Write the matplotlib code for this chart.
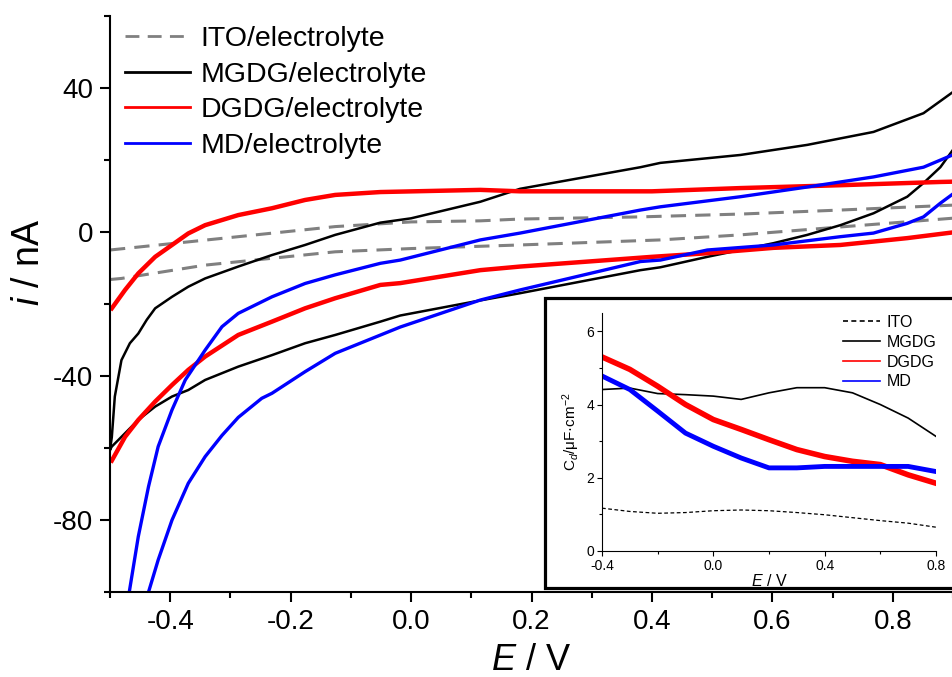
import numpy as np
import matplotlib
matplotlib.use('Agg')
from matplotlib import pyplot as plt
from matplotlib.patches import Rectangle
from matplotlib.ticker import MultipleLocator

plt.rcParams['font.family'] = ['Liberation Sans', 'DejaVu Sans']
plt.rcParams['mathtext.fontset'] = 'custom'
plt.rcParams['mathtext.rm'] = 'Liberation Sans'
plt.rcParams['mathtext.it'] = 'Liberation Sans:italic'

# ---- main CV curves (E / V, i / nA), forward branch then reverse branch ----
ito_e = [-0.5, -0.126, 0.0, 0.115, 0.181, 0.381, 0.55, 0.713, 0.905,
         0.905, 0.713, 0.547, 0.414, 0.181, 0.0, -0.126, -0.342, -0.481, -0.5]
ito_i = [-5.0, 1.5, 2.8, 3.1, 3.6, 4.2, 5.0, 6.1, 7.5,
         3.9, 1.4, -0.8, -2.2, -3.6, -4.6, -5.5, -9.2, -12.9, -13.2]

mgdg_e = [-0.5, -0.497, -0.492, -0.481, -0.467, -0.453, -0.439, -0.425, -0.397, -0.370,
          -0.342, -0.287, -0.231, -0.176, -0.126, -0.051, 0.0, 0.115, 0.181, 0.381,
          0.414, 0.547, 0.658, 0.768, 0.851, 0.905,
          0.905, 0.879, 0.851, 0.824, 0.768, 0.713, 0.658, 0.602, 0.492, 0.414, 0.381,
          0.181, 0.115, -0.018, -0.051, -0.126, -0.176, -0.231, -0.287, -0.342, -0.370,
          -0.397, -0.425, -0.453, -0.475, -0.497, -0.5]
mgdg_i = [-60.5, -57.0, -45.7, -35.6, -30.9, -28.2, -24.4, -21.2, -18.0, -15.2,
          -12.9, -9.6, -6.4, -3.6, -0.8, 2.6, 3.8, 8.4, 12.0, 18.0,
          19.2, 21.4, 24.2, 27.8, 33.0, 39.5,
          24.0, 18.0, 13.6, 9.8, 5.2, 1.9, -0.8, -3.1, -6.9, -9.8, -10.6,
          -17.0, -19.0, -23.2, -24.9, -28.6, -30.9, -34.2, -37.4, -41.1, -43.9,
          -45.7, -48.5, -52.2, -55.9, -59.6, -60.5]

dgdg_e = [-0.497, -0.475, -0.453, -0.425, -0.397, -0.370, -0.342, -0.287, -0.231, -0.176,
          -0.126, -0.051, 0.115, 0.181, 0.4, 0.547, 0.713, 0.879, 0.905,
          0.905, 0.824, 0.713, 0.602, 0.492, 0.4, 0.181, 0.115, -0.018, -0.051,
          -0.126, -0.176, -0.231, -0.287, -0.342, -0.370, -0.397, -0.425, -0.453,
          -0.475, -0.497]
dgdg_i = [-21.2, -16.1, -11.5, -6.9, -3.6, -0.4, 1.9, 4.7, 6.6, 8.9,
          10.3, 11.1, 11.7, 11.3, 11.3, 12.2, 13.0, 13.9, 14.0,
          0.0, -1.7, -3.6, -4.4, -5.9, -6.9, -9.6, -10.6, -14.2, -14.7,
          -18.4, -21.2, -24.9, -28.6, -34.6, -38.3, -42.5, -47.1, -52.2,
          -56.9, -63.5]

md_e = [-0.470, -0.468, -0.453, -0.436, -0.420, -0.397, -0.375, -0.342, -0.314, -0.287,
        -0.231, -0.176, -0.126, -0.051, -0.018, 0.115, 0.181, 0.381, 0.414, 0.547,
        0.658, 0.768, 0.851, 0.905,
        0.905, 0.879, 0.851, 0.824, 0.768, 0.713, 0.602, 0.492, 0.414, 0.381,
        0.181, 0.115, -0.018, -0.126, -0.176, -0.231, -0.248, -0.287, -0.314,
        -0.342, -0.370, -0.397, -0.420, -0.436, -0.438]
md_i = [-103.0, -100.0, -84.6, -70.7, -59.6, -49.4, -41.1, -32.8, -26.3, -22.6,
        -18.0, -14.3, -11.9, -8.7, -7.8, -2.2, -0.3, 6.1, 7.0, 9.8,
        12.5, 15.3, 18.0, 21.8,
        11.2, 8.0, 4.2, 2.4, -0.3, -1.3, -3.6, -5.0, -7.8, -8.2,
        -16.1, -18.9, -26.4, -33.7, -38.8, -44.8, -46.2, -51.5, -56.5,
        -62.4, -69.8, -80.0, -91.1, -100.0, -103.0]

# ---- inset: differential capacitance ----
cd_e = [-0.4, -0.3, -0.2, -0.1, 0.0, 0.1, 0.2, 0.3, 0.4, 0.5, 0.6, 0.7, 0.8]
cd_ito = [1.17, 1.08, 1.03, 1.05, 1.10, 1.12, 1.10, 1.05, 0.99, 0.91, 0.83, 0.76, 0.65]
cd_mgdg = [4.41, 4.45, 4.30, 4.27, 4.23, 4.14, 4.32, 4.46, 4.46, 4.32, 4.00, 3.63, 3.13]
cd_dgdg = [5.30, 4.96, 4.50, 4.00, 3.59, 3.32, 3.04, 2.77, 2.58, 2.45, 2.36, 2.08, 1.85]
cd_md = [4.78, 4.41, 3.82, 3.22, 2.86, 2.54, 2.27, 2.27, 2.31, 2.31, 2.31, 2.31, 2.17]

fig = plt.figure(figsize=(9.53, 6.77), dpi=100)
ax = fig.add_axes([110/953, 85/677, 843/953, 576/677])

ax.plot(ito_e, ito_i, color='#808080', lw=2.2, ls=(0, (5, 3)), label='ITO/electrolyte')
ax.plot(mgdg_e, mgdg_i, color='black', lw=1.8, label='MGDG/electrolyte')
ax.plot(dgdg_e, dgdg_i, color='#ff0000', lw=3.2, label='DGDG/electrolyte')
ax.plot(md_e, md_i, color='#0000ff', lw=2.4, label='MD/electrolyte')

ax.set_xlim(-0.5, 0.9)
ax.set_ylim(-100, 60)
ax.xaxis.set_minor_locator(MultipleLocator(0.1))
ax.yaxis.set_minor_locator(MultipleLocator(20))
ax.set_xticks([-0.4, -0.2, 0.0, 0.2, 0.4, 0.6, 0.8])
ax.set_xticklabels(['-0.4', '-0.2', '0.0', '0.2', '0.4', '0.6', '0.8'])
ax.set_yticks([-80, -40, 0, 40])
ax.set_yticklabels(['-80', '-40', '0', '40'])
for s in ['top', 'right']:
    ax.spines[s].set_visible(False)
for s in ['left', 'bottom']:
    ax.spines[s].set_linewidth(1.5)
ax.tick_params(which='major', direction='out', length=7, width=1.5, labelsize=20, pad=5)
ax.tick_params(which='minor', direction='out', length=4, width=1.5)

ax.set_xlabel('$E$ / V', fontsize=26)
ax.set_ylabel('$i$ / nA', fontsize=27)
ax.xaxis.set_label_coords(0.5, -0.088)
ax.yaxis.set_label_coords(-0.075, 0.573)

lg = ax.legend(loc='upper left', bbox_to_anchor=(125/953, 1 - 26/677), bbox_transform=fig.transFigure,
               frameon=False, fontsize=20.5, handlelength=2.3, handletextpad=0.35,
               labelspacing=0.34, borderpad=0, borderaxespad=0)
for ln in lg.get_lines():
    ln.set_linewidth(2.0)

# inset frame
frame = Rectangle((545/953, 89/677), 0.5, 290/677, transform=fig.transFigure,
                  facecolor='white', edgecolor='black', lw=2.3, zorder=1)
fig.patches.append(frame)

ins = fig.add_axes([602/953, 126/677, 334/953, 238/677], zorder=2)
ins.plot(cd_e, cd_ito, color='black', lw=0.9, ls=(0, (3, 2)), label='ITO')
ins.plot(cd_e, cd_mgdg, color='black', lw=1.2, label='MGDG')
ins.plot(cd_e, cd_dgdg, color='#ff0000', lw=4, label='DGDG')
ins.plot(cd_e, cd_md, color='#0000ff', lw=3.5, label='MD')
ins.set_xlim(-0.4, 0.8)
ins.set_ylim(0, 6.5)
ins.set_xticks([-0.4, 0.0, 0.4, 0.8])
ins.set_xticklabels(['-0.4', '0.0', '0.4', '0.8'])
ins.xaxis.set_minor_locator(MultipleLocator(0.2))
ins.set_yticks([0, 2, 4, 6])
ins.yaxis.set_minor_locator(MultipleLocator(1))
for s in ['top', 'right']:
    ins.spines[s].set_visible(False)
for s in ['left', 'bottom']:
    ins.spines[s].set_linewidth(0.8)
ins.tick_params(which='major', direction='out', length=3.5, width=0.8, labelsize=10, pad=2)
ins.tick_params(which='minor', direction='out', length=2, width=0.8)
ins.set_xlabel('$E$ / V', fontsize=11.5, labelpad=0)
ins.set_ylabel('C$_d$/μF·cm$^{-2}$', fontsize=11, labelpad=3)
leg = ins.legend(loc='upper right', bbox_to_anchor=(1.025, 1.025), frameon=False, fontsize=11.5,
                 handlelength=2.3, handletextpad=0.4, labelspacing=0.3, borderpad=0)
for ln in leg.get_lines():
    ln.set_linewidth(1.2)

fig.savefig('out.png', dpi=100)
